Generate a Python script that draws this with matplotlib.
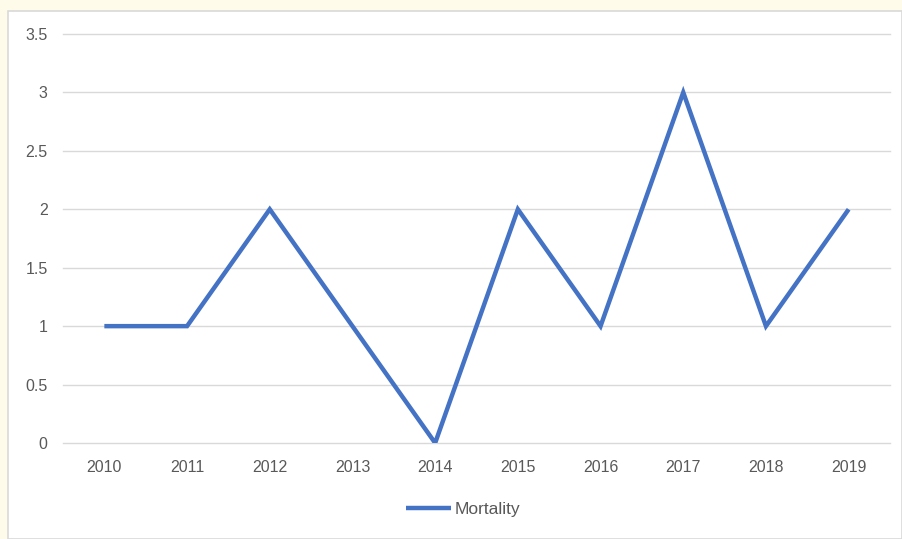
import matplotlib.pyplot as plt
from matplotlib.patches import Rectangle

# Mortality per year
years = ["2010", "2011", "2012", "2013", "2014", "2015", "2016", "2017", "2018", "2019"]
mortality = [1, 1, 2, 1, 0, 2, 1, 3, 1, 2]
y_ticks = [0, 0.5, 1, 1.5, 2, 2.5, 3, 3.5]
y_labels = ["0", "0.5", "1", "1.5", "2", "2.5", "3", "3.5"]

plt.rcParams['font.family'] = ['Liberation Sans', 'DejaVu Sans']
text_color = "#595959"
line_color = "#4472C4"

fig = plt.figure(figsize=(9.02, 5.39), dpi=100, facecolor="#FFFBEA")

# white chart area with thin gray frame
W, H = 902, 539
fig.patches.append(Rectangle((8 / W, 0), 1 - 8 / W, 1 - 11 / H, transform=fig.transFigure,
                             facecolor="white", edgecolor="#D9D9D9", linewidth=1.2, zorder=-1))

ax = fig.add_axes([63 / W, 96 / H, (890 - 63) / W, (443 - 34) / H])
ax.set_zorder(1)
ax.set_facecolor("white")

x = list(range(len(years)))
ax.plot(x, mortality, color=line_color, linewidth=3.2, solid_joinstyle="miter",
        solid_capstyle="butt", label="Mortality")

ax.set_xlim(-0.5, len(years) - 0.5)
ax.set_ylim(0, 3.5)
ax.set_xticks(x)
ax.set_xticklabels(years)
ax.set_yticks(y_ticks)
ax.set_yticklabels(y_labels)
ax.tick_params(axis="both", length=0, labelsize=11.5, colors=text_color)
ax.tick_params(axis="x", pad=12)
ax.tick_params(axis="y", pad=11)

ax.grid(axis="y", color="#D9D9D9", linewidth=1)
for gl in ax.get_ygridlines():
    gl.set_clip_on(False)
ax.set_axisbelow(True)
for s in ax.spines.values():
    s.set_visible(False)

leg = fig.legend(loc="center", bbox_to_anchor=(463 / W, 1 - 509 / H), frameon=False,
                 fontsize=12.5, handlelength=2.6, handletextpad=0.2)
for t in leg.get_texts():
    t.set_color(text_color)

fig.savefig("out.png", dpi=100, facecolor=fig.get_facecolor())
